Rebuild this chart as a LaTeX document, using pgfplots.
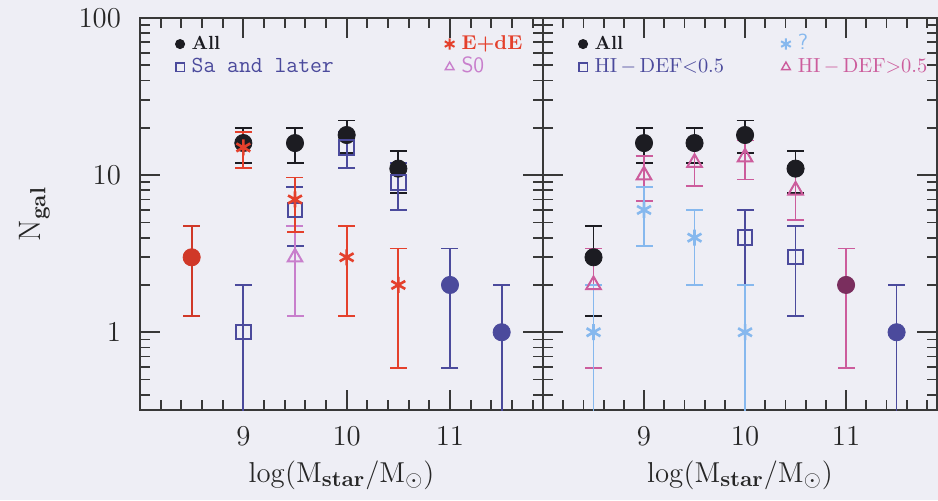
\documentclass[border=0pt]{standalone}
\usepackage{pgfplots}
\pgfplotsset{compat=1.18}
\usepackage{pgfplotstable}
\definecolor{bgc}{HTML}{EEEEF5}
\definecolor{cax}{HTML}{383838}
\definecolor{cblk}{HTML}{1C1C22}
\definecolor{cred}{HTML}{E4402C}
\definecolor{cdred}{HTML}{D03828}
\definecolor{cnavy}{HTML}{4B4A9C}
\definecolor{cso}{HTML}{C87FCC}
\definecolor{cpink}{HTML}{CC5C9C}
\definecolor{cblue}{HTML}{86B8EE}
\definecolor{cmaroon}{HTML}{7A2E5E}

% ---- left panel ----
\pgfplotstableread{
x y ep em
9 16 4 4
9.5 16 4 4
10 18 4.24 4.24
10.5 11 3.32 3.32
}\LAll
\pgfplotstableread{
x y ep em
8.5 3 1.73 1.73
}\LAllRed
\pgfplotstableread{
x y ep em
11 2 1.41 1.41
11.5 1 1 0.99
}\LAllNavy
\pgfplotstableread{
x y ep em
9 15 3.87 3.87
9.5 7 2.65 2.65
10 3 1.73 1.73
10.5 2 1.41 1.41
}\LEdE
\pgfplotstableread{
x y ep em
9 1 1 0.99
9.5 6 2.45 2.45
10 15 3.87 3.87
10.5 9 3 3
}\LSa
\pgfplotstableread{
x y ep em
9.5 3 1.73 1.73
}\LSO
% ---- right panel ----
\pgfplotstableread{
x y ep em
8.5 3 1.73 1.73
9 16 4 4
9.5 16 4 4
10 18 4.24 4.24
10.5 11 3.32 3.32
}\RAll
\pgfplotstableread{
x y ep em
11 2 1.41 1.41
}\RAllPink
\pgfplotstableread{
x y ep em
11.5 1 1 0.99
}\RAllNavy
\pgfplotstableread{
x y ep em
8.5 1 1 0.99
9 6 2.45 2.45
9.5 4 2 2
10 1 1 0.99
}\RQ
\pgfplotstableread{
x y ep em
10 4 2 2
10.5 3 1.73 1.73
}\RLow
\pgfplotstableread{
x y ep em
8.5 2 1.41 1.41
9 10 3.16 3.16
9.5 12 3.46 3.46
10 13 3.61 3.61
10.5 8 2.83 2.83
}\RHigh

\pgfplotsset{
  eb/.style={error bars/y dir=both, error bars/y explicit,
    error bars/error bar style={line width=0.9pt},
    error bars/error mark options={rotate=90, line width=0.9pt, mark size=4.25pt}},
}

\begin{document}
\begin{tikzpicture}
\fill[bgc] (0,0) rectangle (469pt,250pt);
\path[use as bounding box] (0,0) rectangle (469pt,250pt);

\begin{axis}[at={(70pt,45pt)}, width=201.5pt,
    anchor=south west, scale only axis, height=196pt,
    xmin=8, xmax=11.9, ymode=log, ymin=0.32, ymax=100,
    xtick={9,10,11},
    minor xtick={8.2,8.4,8.6,8.8,9.2,9.4,9.6,9.8,10.2,10.4,10.6,10.8,11.2,11.4,11.6,11.8},
    ytick={1,10,100},
    minor ytick={0.4,0.5,0.6,0.7,0.8,0.9,2,3,4,5,6,7,8,9,20,30,40,50,60,70,80,90},
    log ticks with fixed point,
    major tick length=10pt, minor tick length=5pt,
    axis line style={cax, line width=1pt},
    tick style={cax, line width=0.9pt},
    tick label style={font=\fontsize{15.5}{18}\selectfont, text=black!85},
    xticklabel style={yshift=-5pt},
    yticklabel style={xshift=-6pt},
    xlabel={$\log(\mathrm{M}_{\mathbf{star}}/\mathrm{M}_\odot)$},
    xlabel style={at={(axis description cs:0.5,-0.184)}, anchor=base,
      font=\fontsize{15.5}{18}\selectfont, text=black!85},
    legend image code/.code={\draw[#1] plot coordinates {(0pt,0pt)};},
    legend cell align=left,
  ylabel={N$_{\mathbf{gal}}$},
  ylabel style={at={(axis description cs:-0.248,0.5)}, anchor=base,
    font=\fontsize{15.5}{18}\selectfont, text=black!85},
  legend columns=2,
  legend style={draw=none, fill=none, inner sep=0pt, outer sep=0pt,
    at={(axis description cs:0.088,0.959)}, anchor=north west,
    nodes={inner sep=0.5pt, text height=7pt, text depth=2pt},
    /tikz/every odd column/.append style={column sep=3pt},
    /tikz/every even column/.append style={column sep=55pt},
    row sep=1.5pt},
]
\addlegendimage{mark=*, cblk, mark size=2.3pt}
\addlegendentry{\fontsize{9.5}{11}\selectfont\bfseries\textcolor{cblk}{All}}
\addlegendimage{mark=asterisk, cred, mark size=2.8pt, line width=1pt}
\addlegendentry{\fontsize{10}{11}\selectfont\bfseries\textcolor{cred}{E+dE}}
\addlegendimage{mark=square, cnavy, mark size=2.1pt, line width=0.7pt}
\addlegendentry{\fontsize{11.5}{12}\selectfont\ttfamily\textcolor{cnavy}{Sa and later}}
\addlegendimage{mark=triangle, cso, mark size=2.5pt, line width=0.7pt}
\addlegendentry{\fontsize{11}{12}\selectfont\sffamily\textcolor{cso}{S0}}

\addplot[only marks, mark=*, mark size=4.3pt, cblk, eb, forget plot]
  table[x=x, y=y, y error plus=ep, y error minus=em] {\LAll};
\addplot[only marks, mark=*, mark size=4.3pt, cdred, eb, forget plot]
  table[x=x, y=y, y error plus=ep, y error minus=em] {\LAllRed};
\addplot[only marks, mark=*, mark size=4.3pt, cnavy, eb, forget plot]
  table[x=x, y=y, y error plus=ep, y error minus=em] {\LAllNavy};
\addplot[only marks, mark=square, mark size=3.6pt, cnavy, line width=1pt, eb, forget plot]
  table[x=x, y=y, y error plus=ep, y error minus=em] {\LSa};
\addplot[only marks, mark=triangle, mark size=4.2pt, cso, line width=1pt, eb, forget plot]
  table[x=x, y=y, y error plus=ep, y error minus=em] {\LSO};
\addplot[only marks, mark=asterisk, mark size=4pt, cred, line width=1.3pt, eb, forget plot]
  table[x=x, y=y, y error plus=ep, y error minus=em] {\LEdE};
\end{axis}

\begin{axis}[at={(271.5pt,45pt)}, width=197pt,
    anchor=south west, scale only axis, height=196pt,
    xmin=8, xmax=11.9, ymode=log, ymin=0.32, ymax=100,
    xtick={9,10,11},
    minor xtick={8.2,8.4,8.6,8.8,9.2,9.4,9.6,9.8,10.2,10.4,10.6,10.8,11.2,11.4,11.6,11.8},
    ytick={1,10,100},
    minor ytick={0.4,0.5,0.6,0.7,0.8,0.9,2,3,4,5,6,7,8,9,20,30,40,50,60,70,80,90},
    major tick length=10pt, minor tick length=5pt,
    axis line style={cax, line width=1pt},
    tick style={cax, line width=0.9pt},
    tick label style={font=\fontsize{15.5}{18}\selectfont, text=black!85},
    xticklabel style={yshift=-5pt},
    yticklabels={},
    xlabel={$\log(\mathrm{M}_{\mathbf{star}}/\mathrm{M}_\odot)$},
    xlabel style={at={(axis description cs:0.5,-0.184)}, anchor=base,
      font=\fontsize{15.5}{18}\selectfont, text=black!85},
    legend image code/.code={\draw[#1] plot coordinates {(0pt,0pt)};},
    legend cell align=left,
  legend columns=2,
  legend style={draw=none, fill=none, inner sep=0pt, outer sep=0pt,
    at={(axis description cs:0.090,0.959)}, anchor=north west,
    nodes={inner sep=0.5pt, text height=7pt, text depth=2pt},
    /tikz/every odd column/.append style={column sep=3pt},
    /tikz/every even column/.append style={column sep=28pt},
    row sep=1.5pt},
]
\addlegendimage{mark=*, cblk, mark size=2.3pt}
\addlegendentry{\fontsize{9.5}{11}\selectfont\bfseries\textcolor{cblk}{All}}
\addlegendimage{mark=asterisk, cblue, mark size=2.8pt, line width=1pt}
\addlegendentry{\fontsize{11}{12}\selectfont\sffamily\textcolor{cblue}{?}}
\addlegendimage{mark=square, cnavy, mark size=2.1pt, line width=0.7pt}
\addlegendentry{\fontsize{10.2}{12}\selectfont\textcolor{cnavy}{HI\,$-$\,DEF$<$0.5}}
\addlegendimage{mark=triangle, cpink, mark size=2.5pt, line width=0.7pt}
\addlegendentry{\fontsize{10.2}{12}\selectfont\textcolor{cpink}{HI\,$-$\,DEF$>$0.5}}

\addplot[only marks, mark=*, mark size=4.3pt, cblk, eb, forget plot]
  table[x=x, y=y, y error plus=ep, y error minus=em] {\RAll};
\addplot[only marks, mark=*, mark size=4.3pt, cmaroon, eb, error bars/error bar style={cpink, line width=0.9pt}, error bars/error mark options={rotate=90, cpink, line width=0.9pt, mark size=4.25pt}, forget plot]
  table[x=x, y=y, y error plus=ep, y error minus=em] {\RAllPink};
\addplot[only marks, mark=*, mark size=4.3pt, cnavy, eb, forget plot]
  table[x=x, y=y, y error plus=ep, y error minus=em] {\RAllNavy};
\addplot[only marks, mark=triangle, mark size=4.2pt, cpink, line width=1pt, eb, forget plot]
  table[x=x, y=y, y error plus=ep, y error minus=em] {\RHigh};
\addplot[only marks, mark=square, mark size=3.6pt, cnavy, line width=1pt, eb, forget plot]
  table[x=x, y=y, y error plus=ep, y error minus=em] {\RLow};
\addplot[only marks, mark=asterisk, mark size=4pt, cblue, line width=1.3pt, eb, forget plot]
  table[x=x, y=y, y error plus=ep, y error minus=em] {\RQ};
\end{axis}
\end{tikzpicture}
\end{document}
